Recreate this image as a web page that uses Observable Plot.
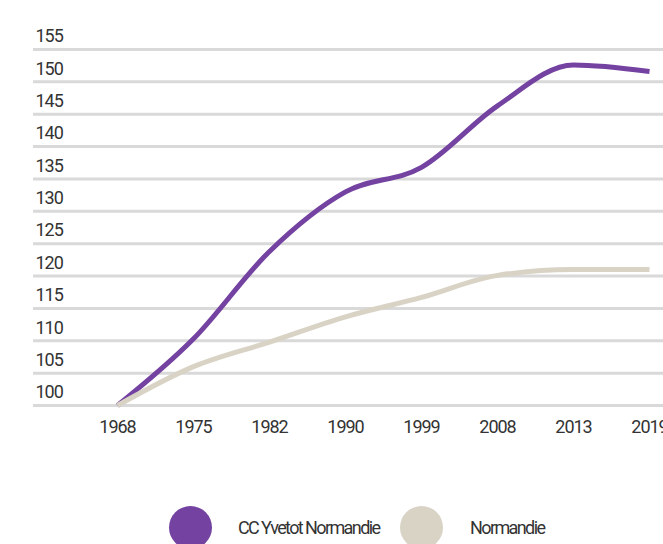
<!DOCTYPE html>
<html>
<head>
<meta charset="utf-8">
<script src="https://cdn.jsdelivr.net/npm/d3@7"></script>
<script src="https://cdn.jsdelivr.net/npm/@observablehq/plot@0.6"></script>
<style>
  html, body { margin: 0; padding: 0; background: #fff; }
  #wrap { position: relative; width: 663px; height: 544px; overflow: hidden;
    font-family: Roboto, "Liberation Sans", sans-serif; }
  #chart svg text { letter-spacing: -1px; }
  #legend { position: absolute; left: 0; top: 506px; width: 663px; height: 43px; }
  .sw { position: absolute; top: 0; width: 43px; height: 43px; border-radius: 50%; }
  .lb { position: absolute; top: 0; line-height: 43px; font-size: 18px; letter-spacing: -1.6px; color: #333; white-space: nowrap; }
</style>
</head>
<body>
<div id="wrap"><div id="chart"></div><div id="legend"></div></div>
<script>
const years = ["1968", "1975", "1982", "1990", "1999", "2008", "2013", "2019"];
const ccYvetot = [100, 110.3, 123.8, 133.0, 136.8, 146.3, 152.6, 151.6];
const normandie = [100, 106.0, 109.8, 113.7, 116.7, 120.1, 121.0, 121.0];
const yTicks = [100, 105, 110, 115, 120, 125, 130, 135, 140, 145, 150, 155];
const seriesNames = ["CC Yvetot Normandie", "Normandie"];
const seriesColors = ["#7442a0", "#d9d3c6"];

const rows = [];
years.forEach((yr, i) => {
  rows.push({year: yr, value: ccYvetot[i], series: seriesNames[0]});
  rows.push({year: yr, value: normandie[i], series: seriesNames[1]});
});

const font = 'Roboto, "Liberation Sans", sans-serif';

const chart = Plot.plot({
  width: 663,
  height: 460,
  marginLeft: 115,
  marginRight: 13,
  marginTop: 49,
  marginBottom: 55,
  style: {fontFamily: font, fontSize: "18px", color: "#333", background: "transparent", overflow: "visible"},
  x: {type: "point", domain: years, padding: 0, label: null},
  y: {domain: [100, 155], axis: null},
  color: {domain: seriesNames, range: seriesColors},
  marks: [
    Plot.ruleY(yTicks, {y: d => d, stroke: "#d9d9d9", strokeWidth: 3, insetLeft: -82, insetRight: -13}),
    Plot.text(yTicks, {y: d => d, text: d => String(d), frameAnchor: "left", dx: -80, dy: -13,
      textAnchor: "start", fill: "#333", fontSize: 18}),
    Plot.axisX({tickSize: 0, tickPadding: 15, fontSize: 18, fill: "#333", label: null}),
    Plot.line(rows.filter(d => d.series === seriesNames[0]), {x: "year", y: "value", stroke: "series",
      strokeWidth: 5, curve: "monotone-x", strokeLinecap: "butt"}),
    Plot.line(rows.filter(d => d.series === seriesNames[1]), {x: "year", y: "value", stroke: "series",
      strokeWidth: 5, curve: "monotone-x", strokeLinecap: "butt"})
  ]
});
document.getElementById("chart").appendChild(chart);

const legend = document.getElementById("legend");
const swLeft = [169, 400];
const lbLeft = [238, 470];
seriesNames.forEach((name, i) => {
  const sw = document.createElement("div");
  sw.className = "sw";
  sw.style.left = swLeft[i] + "px";
  sw.style.background = seriesColors[i];
  legend.appendChild(sw);
  const lb = document.createElement("div");
  lb.className = "lb";
  lb.style.left = lbLeft[i] + "px";
  lb.textContent = name;
  legend.appendChild(lb);
});
</script>
</body>
</html>
